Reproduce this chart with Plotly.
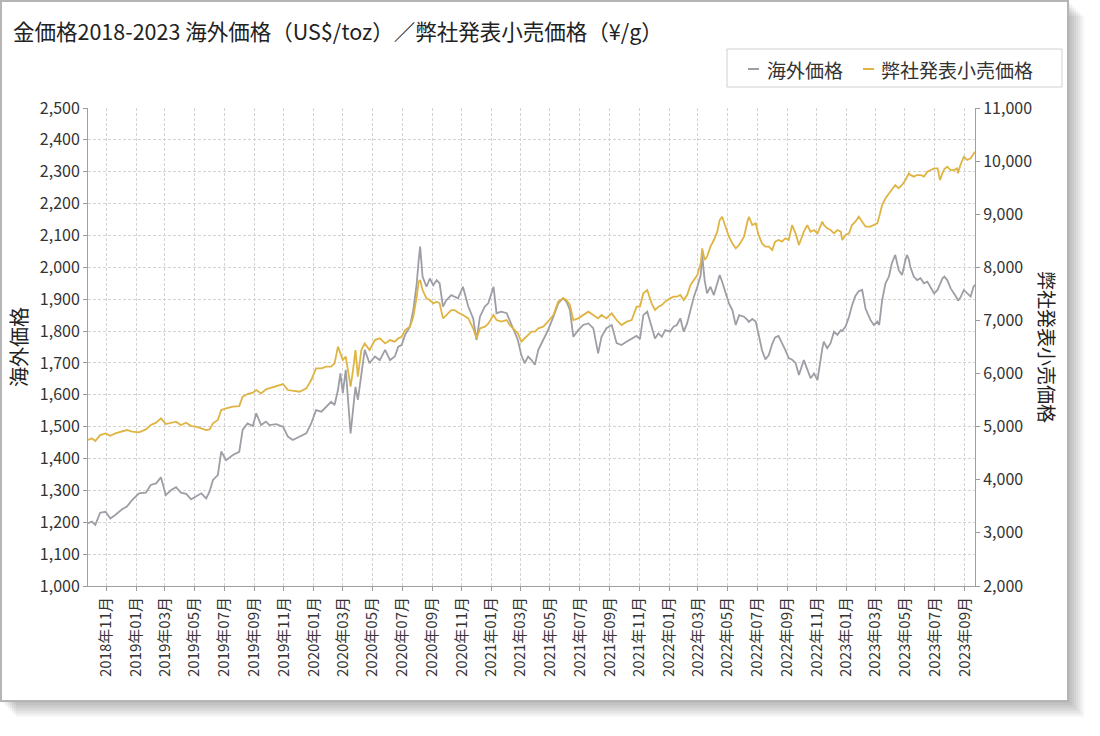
import plotly.graph_objects as go

# ---- data ----
dates = [
    "2018-09-24", "2018-10-02", "2018-10-09", "2018-10-19", "2018-10-30", "2018-11-09", "2018-11-19",
    "2018-12-03", "2018-12-13", "2018-12-24", "2019-01-07", "2019-01-21", "2019-01-31", "2019-02-11",
    "2019-02-21", "2019-03-03", "2019-03-14", "2019-03-24", "2019-04-03", "2019-04-14", "2019-04-24",
    "2019-05-04", "2019-05-15", "2019-05-25", "2019-06-01", "2019-06-08", "2019-06-18", "2019-06-25",
    "2019-07-05", "2019-07-19", "2019-08-01", "2019-08-08", "2019-08-18", "2019-08-29", "2019-09-05",
    "2019-09-15", "2019-09-25", "2019-10-02", "2019-10-16", "2019-10-30", "2019-11-09", "2019-11-19",
    "2019-12-03", "2019-12-17", "2019-12-27", "2020-01-06", "2020-01-17", "2020-01-27", "2020-02-06",
    "2020-02-13", "2020-02-20", "2020-02-25", "2020-03-01", "2020-03-07", "2020-03-12", "2020-03-17",
    "2020-03-22", "2020-03-27", "2020-04-01", "2020-04-08", "2020-04-15", "2020-04-25", "2020-05-06",
    "2020-05-16", "2020-05-27", "2020-06-06", "2020-06-16", "2020-06-23", "2020-06-30", "2020-07-07",
    "2020-07-17", "2020-07-24", "2020-07-31", "2020-08-04", "2020-08-07", "2020-08-12", "2020-08-20",
    "2020-08-27", "2020-09-03", "2020-09-10", "2020-09-16", "2020-09-23", "2020-09-30", "2020-10-10",
    "2020-10-17", "2020-10-24", "2020-11-03", "2020-11-14", "2020-11-24", "2020-12-01", "2020-12-08",
    "2020-12-18", "2020-12-25", "2021-01-05", "2021-01-11", "2021-01-21", "2021-02-01", "2021-02-07",
    "2021-02-14", "2021-02-24", "2021-03-03", "2021-03-10", "2021-03-17", "2021-03-24", "2021-03-31",
    "2021-04-07", "2021-04-17", "2021-04-27", "2021-05-08", "2021-05-18", "2021-05-28", "2021-06-04",
    "2021-06-11", "2021-06-18", "2021-06-28", "2021-07-08", "2021-07-19", "2021-07-29", "2021-08-08",
    "2021-08-15", "2021-08-25", "2021-09-05", "2021-09-15", "2021-09-25", "2021-10-06", "2021-10-16",
    "2021-10-26", "2021-11-02", "2021-11-09", "2021-11-17", "2021-11-26", "2021-12-03", "2021-12-10",
    "2021-12-17", "2021-12-24", "2022-01-03", "2022-01-10", "2022-01-17", "2022-01-24", "2022-01-31",
    "2022-02-07", "2022-02-14", "2022-02-21", "2022-02-28", "2022-03-07", "2022-03-10", "2022-03-15",
    "2022-03-20", "2022-03-27", "2022-04-03", "2022-04-10", "2022-04-15", "2022-04-20", "2022-04-27",
    "2022-05-04", "2022-05-11", "2022-05-18", "2022-05-25", "2022-06-04", "2022-06-11", "2022-06-14",
    "2022-06-21", "2022-06-28", "2022-07-04", "2022-07-11", "2022-07-18", "2022-07-25", "2022-08-01",
    "2022-08-07", "2022-08-14", "2022-08-21", "2022-08-28", "2022-09-04", "2022-09-11", "2022-09-18",
    "2022-09-25", "2022-10-05", "2022-10-12", "2022-10-19", "2022-10-26", "2022-11-02", "2022-11-12",
    "2022-11-15", "2022-11-22", "2022-11-29", "2022-12-06", "2022-12-13", "2022-12-20", "2022-12-23",
    "2022-12-30", "2023-01-06", "2023-01-12", "2023-01-19", "2023-01-26", "2023-02-02", "2023-02-09",
    "2023-02-19", "2023-02-26", "2023-03-05", "2023-03-09", "2023-03-15", "2023-03-22", "2023-03-29",
    "2023-04-04", "2023-04-11", "2023-04-18", "2023-04-25", "2023-05-02", "2023-05-05", "2023-05-09",
    "2023-05-12", "2023-05-19", "2023-05-26", "2023-06-02", "2023-06-09", "2023-06-16", "2023-06-23",
    "2023-06-30", "2023-07-07", "2023-07-12", "2023-07-17", "2023-07-21", "2023-07-27", "2023-08-03",
    "2023-08-10", "2023-08-16", "2023-08-18", "2023-08-23", "2023-08-30", "2023-09-06", "2023-09-13",
    "2023-09-19", "2023-09-22",
]

overseas_usd = [
    1197, 1202, 1192, 1230, 1233, 1212, 1223,
    1241, 1249, 1270, 1291, 1293, 1317, 1322,
    1341, 1285, 1301, 1310, 1293, 1289, 1272,
    1280, 1291, 1275, 1296, 1333, 1348, 1422,
    1395, 1411, 1421, 1490, 1510, 1502, 1542,
    1505, 1516, 1505, 1508, 1500, 1469, 1458,
    1469, 1479, 1510, 1552, 1547, 1563, 1578,
    1568, 1615, 1667, 1605, 1678, 1563, 1479,
    1552, 1625, 1584, 1670, 1741, 1699, 1720,
    1709, 1741, 1709, 1720, 1751, 1756, 1788,
    1814, 1866, 1950, 2023, 2065, 1971, 1939,
    1965, 1944, 1960, 1950, 1877, 1897, 1913,
    1908, 1903, 1939, 1877, 1840, 1772, 1845,
    1877, 1887, 1939, 1856, 1861, 1856, 1835,
    1809, 1772, 1725, 1699, 1720, 1709, 1694,
    1741, 1772, 1803, 1845, 1887, 1903, 1892,
    1866, 1782, 1803, 1819, 1824, 1809, 1730,
    1782, 1809, 1819, 1762, 1756, 1767, 1777,
    1785, 1775, 1850, 1861, 1814, 1777, 1793,
    1782, 1803, 1798, 1814, 1819, 1840, 1798,
    1824, 1866, 1908, 1939, 1976, 2039, 1960,
    1918, 1939, 1913, 1950, 1976, 1955, 1918,
    1887, 1866, 1819, 1850, 1845, 1835, 1829,
    1838, 1830, 1790, 1740, 1711, 1725, 1760,
    1780, 1785, 1765, 1740, 1715, 1710, 1700,
    1662, 1709, 1678, 1652, 1667, 1646, 1745,
    1767, 1746, 1762, 1798, 1788, 1803, 1800,
    1815, 1845, 1880, 1910, 1926, 1929, 1870,
    1835, 1819, 1830, 1819, 1897, 1950, 1971,
    2013, 2039, 1992, 1976, 2023, 2039, 2025,
    2002, 1971, 1960, 1966, 1950, 1955, 1934,
    1918, 1929, 1950, 1965, 1971, 1960, 1934,
    1918, 1903, 1895, 1905, 1929, 1918, 1908,
    1939, 1945,
]

retail_jpy = [
    4750, 4780, 4730, 4842, 4874, 4830, 4874,
    4905, 4937, 4905, 4893, 4949, 5031, 5075,
    5156, 5050, 5075, 5094, 5031, 5075, 5012,
    5000, 4968, 4937, 4949, 5062, 5125, 5313,
    5344, 5376, 5388, 5564, 5614, 5640, 5690,
    5627, 5702, 5721, 5752, 5803, 5690, 5671,
    5658, 5721, 5878, 6098, 6098, 6129, 6129,
    6192, 6506, 6380, 6255, 6317, 6066, 5752,
    6066, 6443, 5941, 6443, 6568, 6443, 6631,
    6663, 6568, 6631, 6600, 6663, 6694, 6820,
    6882, 7071, 7447, 7730, 7761, 7573, 7416,
    7384, 7322, 7353, 7322, 7039, 7102, 7196,
    7196, 7150, 7102, 7039, 6851, 6663, 6851,
    6882, 6940, 7102, 7008, 6977, 7008, 6914,
    6851, 6757, 6600, 6663, 6725, 6788, 6788,
    6851, 6882, 6977, 7102, 7353, 7416, 7384,
    7290, 7008, 7039, 7102, 7165, 7102, 7039,
    7102, 7039, 7133, 7008, 6914, 6977, 7008,
    7259, 7259, 7510, 7573, 7322, 7196, 7259,
    7290, 7353, 7416, 7447, 7447, 7479, 7384,
    7479, 7667, 7761, 7855, 8075, 8357, 8138,
    8201, 8389, 8514, 8671, 8891, 8953, 8765,
    8577, 8451, 8357, 8420, 8577, 8859, 8953,
    8796, 8828, 8608, 8451, 8389, 8389, 8326,
    8483, 8514, 8483, 8546, 8514, 8796, 8640,
    8420, 8671, 8796, 8671, 8703, 8640, 8859,
    8797, 8734, 8703, 8640, 8703, 8671, 8514,
    8608, 8640, 8797, 8860, 8954, 8860, 8766,
    8766, 8800, 8828, 8954, 9173, 9299, 9393,
    9456, 9550, 9487, 9550, 9644, 9700, 9770,
    9740, 9707, 9738, 9738, 9707, 9801, 9832,
    9864, 9864, 9644, 9770, 9850, 9895, 9832,
    9832, 9864, 9770, 9927, 10083, 10021, 10052,
    10146, 10178,
]

series_names = ["海外価格", "弊社発表小売価格"]
title_text = "金価格2018-2023 海外価格（US$/toz）／弊社発表小売価格（¥/g）"
left_title = "海外価格"
right_title = "弊社発表小売価格"

# ---- styling ----
FONT = "Noto Sans CJK JP"
GRAY = "#9d9ea6"
GOLD = "#dfb443"
W, H = 1100, 736
L, R, T, B = 88, 975, 108, 586   # plot area in pixels

def px_x(p):
    return (p - L) / (R - L)

def px_y(p):
    return (B - p) / (B - T)

fig = go.Figure()
fig.add_trace(go.Scatter(x=dates, y=overseas_usd, name=series_names[0], mode="lines",
                         line=dict(color=GRAY, width=1.8), yaxis="y"))
fig.add_trace(go.Scatter(x=dates, y=retail_jpy, name=series_names[1], mode="lines",
                         line=dict(color=GOLD, width=1.8), yaxis="y2"))

shapes = []
# drop shadow of the panel
for k in range(1, 9):
    shapes.append(dict(type="rect", xref="paper", yref="paper", layer="below",
                       x0=px_x(2 * k), x1=px_x(1068 + 2 * k), y0=px_y(701 + 2 * k), y1=px_y(2 * k),
                       fillcolor="rgba(0,0,0,0.035)", line=dict(width=0)))
# panel with border
shapes.append(dict(type="rect", xref="paper", yref="paper", layer="below",
                   x0=px_x(1), x1=px_x(1068), y0=px_y(701), y1=px_y(1),
                   fillcolor="white", line=dict(color="#b5b5b5", width=2)))
# legend box and keys
shapes.append(dict(type="rect", xref="paper", yref="paper", layer="above",
                   x0=px_x(727), x1=px_x(1062), y0=px_y(87), y1=px_y(49),
                   fillcolor="rgba(0,0,0,0)", line=dict(color="#d0d0d0", width=1)))
shapes.append(dict(type="line", xref="paper", yref="paper", layer="above",
                   x0=px_x(748), x1=px_x(759), y0=px_y(69), y1=px_y(69),
                   line=dict(color=GRAY, width=2)))
shapes.append(dict(type="line", xref="paper", yref="paper", layer="above",
                   x0=px_x(863), x1=px_x(874), y0=px_y(69), y1=px_y(69),
                   line=dict(color=GOLD, width=2)))

annotations = [
    dict(text=right_title, xref="paper", yref="paper", x=px_x(1048), y=0.5,
         showarrow=False, textangle=90, xanchor="center", yanchor="middle",
         font=dict(family=FONT, size=19, color="#222222")),
    dict(text=series_names[0], xref="paper", yref="paper", x=px_x(765), y=px_y(69),
         showarrow=False, xanchor="left", yanchor="middle",
         font=dict(family=FONT, size=19, color="#333333")),
    dict(text=series_names[1], xref="paper", yref="paper", x=px_x(879), y=px_y(69),
         showarrow=False, xanchor="left", yanchor="middle",
         font=dict(family=FONT, size=19, color="#333333")),
]

axis_common = dict(ticks="outside", ticklen=4, tickcolor="#9a9a9a", showline=True,
                   linecolor="#a0a0a0", linewidth=1, zeroline=False,
                   tickfont=dict(family=FONT, size=16, color="#333333"))

fig.update_layout(
    width=W, height=H,
    margin=dict(l=L, r=W - R, t=T, b=H - B),
    paper_bgcolor="white", plot_bgcolor="white",
    font=dict(family=FONT, color="#333333"),
    title=dict(text=title_text, xref="container", yref="container", x=13 / W, xanchor="left",
               y=1 - 32 / H, yanchor="middle", font=dict(family=FONT, size=21.5, color="#222222")),
    showlegend=False,
    xaxis=dict(type="date", range=["2018-09-24", "2023-09-22"], tick0="2018-11-01", dtick="M2",
               tickformat="%Y年%m月", tickangle=-90, showgrid=True, gridcolor="#d3d3d3",
               griddash="3px,2px", gridwidth=1,
               ticks="outside", ticklen=4, tickcolor="#9a9a9a", showline=True,
               linecolor="#a0a0a0", linewidth=1,
               tickfont=dict(family=FONT, size=15, color="#333333")),
    yaxis=dict(range=[1000, 2500], dtick=100, tickformat=",d", showgrid=True,
               gridcolor="#d3d3d3", griddash="3px,2px", gridwidth=1,
               title=dict(text=left_title, standoff=6, font=dict(family=FONT, size=20, color="#222222")),
               **axis_common),
    yaxis2=dict(range=[2000, 11000], dtick=1000, tickformat=",d", overlaying="y", side="right",
                showgrid=False, **axis_common),
    shapes=shapes,
    annotations=annotations,
)

fig.write_html("out.html", config={"displayModeBar": False},
               post_script="document.body.style.margin='0';")
